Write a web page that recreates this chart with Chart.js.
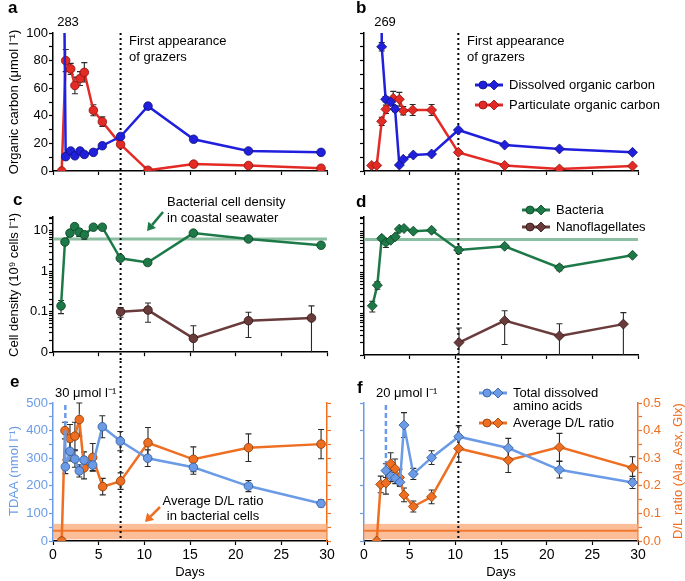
<!DOCTYPE html>
<html lang="en">
<head>
<meta charset="UTF-8">
<title>Organic carbon, cell density and amino acids</title>
<style>
  body { margin: 0; background: #fff; }
  #wrap { position: relative; width: 685px; height: 581px; }
  canvas { position: absolute; }
</style>
</head>
<body>
<div id="wrap">
  <canvas id="cA" width="340" height="183" style="left:0;top:0"></canvas>
  <canvas id="cB" width="345" height="183" style="left:340px;top:0"></canvas>
  <canvas id="cC" width="340" height="178" style="left:0;top:183px"></canvas>
  <canvas id="cD" width="345" height="178" style="left:340px;top:183px"></canvas>
  <canvas id="cE" width="340" height="220" style="left:0;top:361px"></canvas>
  <canvas id="cF" width="345" height="220" style="left:340px;top:361px"></canvas>
</div>

<script src="https://cdn.jsdelivr.net/npm/chart.js@4"></script>
<script>
// ---- data ----
const grazerDayA = 7.4;
const grazerDayB = 10.33;

// a: organic carbon, experiment 1
const aDocDays = [1.0, 1.39, 1.94, 2.4, 2.96, 3.43, 4.42, 5.4, 7.4, 10.4, 15.4, 21.4, 29.35];
const aDocVals = [283, 10.4, 14.5, 11, 14.5, 12, 13.5, 18.3, 25, 47, 23, 14.5, 13.5];
const aDocErr  = [0, 0, 1, 0, 1, 0, 0, 0, 1, 2, 0, 0, 0];
const aPocDays = [0.95, 1.39, 1.94, 2.4, 2.96, 3.43, 4.42, 5.4, 7.4, 10.4, 15.4, 21.4, 29.35];
const aPocVals = [0, 80, 74, 62, 67, 71.5, 44, 35.7, 19.3, 0.5, 5, 4, 2];
const aPocErr  = [0, 8, 4, 6, 5, 7, 4, 3.5, 1.5, 0, 0, 0, 0];

// b: organic carbon, experiment 2
const bDocDays = [1.88, 1.94, 2.37, 2.92, 3.4, 3.87, 4.3, 5.4, 7.4, 10.33, 15.4, 21.4, 29.4];
const bDocVals = [269, 90, 52, 50, 45, 4.3, 8.5, 11.6, 12.3, 29.7, 18.8, 16, 13.5];
const bDocErr  = [0, 3, 2, 2, 2, 0, 0, 1, 1, 1, 0, 0, 0];
const bPocDays = [0.84, 1.39, 1.94, 2.4, 3.2, 3.87, 4.3, 5.33, 7.4, 10.33, 15.4, 21.4, 29.4];
const bPocVals = [4, 4, 36, 44.7, 52.7, 52, 43.7, 44.2, 44.2, 13.5, 4, 1.5, 3.6];
const bPocErr  = [0, 0, 3, 3, 5, 5, 3, 4, 4, 1, 0, 0, 0];

// c / d: cell densities (10^9 cells per litre), log axis
const seawaterBacteria = 6.3;
const cBacDays  = [0.88, 1.31, 1.86, 2.37, 2.88, 3.43, 4.42, 5.4, 7.37, 10.37, 15.37, 21.4, 29.35];
const cBacVals  = [0.14, 5.3, 8.8, 12.7, 9.3, 8, 12.3, 12.3, 2.1, 1.65, 8.8, 6.3, 4.4];
const cBacErr   = [0.05, 0.4, 0.8, 1.5, 2, 1.8, 0.5, 0.5, 0.2, 0.25, 0.4, 0.6, 0.4];
const cNanoDays = [7.4, 10.4, 15.37, 21.4, 28.3];
const cNanoVals = [0.1, 0.11, 0.022, 0.06, 0.07];
const cNanoErr  = [0.027, 0.055, 0.023, 0.037, 0.07];

const dBacDays  = [0.91, 1.46, 1.94, 2.4, 2.92, 3.43, 3.87, 4.38, 5.4, 7.4, 10.37, 15.4, 21.4, 29.4];
const dBacVals  = [0.155, 0.49, 6.7, 5.3, 6, 7.3, 11.2, 11.6, 10, 10.5, 3.5, 4.3, 1.3, 2.6];
const dBacErr   = [0.045, 0.1, 0.8, 1.3, 0.5, 0.5, 0.8, 0.5, 0.4, 0.4, 0.6, 0.3, 0.2, 0.15];
const dNanoDays = [10.4, 15.4, 21.4, 28.4];
const dNanoVals = [0.02, 0.068, 0.029, 0.056];
const dNanoErr  = [0.025, 0.05, 0.028, 0.05];

// e / f: TDAA (nmol/l, left) and D/L ratio (right)
const cellRatioLo = 0.006, cellRatioMid = 0.037, cellRatioHi = 0.062;
// off-scale first samples (30 and 20 umol/l), drawn dashed
const eSpikeDays = [1.35, 1.35];
const eSpikeVals = [30000, 400];
const fSpikeDays = [2.37, 2.4];
const fSpikeVals = [20000, 255];

const eTdaaDays = [1.35, 1.35, 1.86, 2.4, 2.88, 3.4, 4.35, 5.4, 7.37, 10.37, 15.37, 21.4, 29.35];
const eTdaaVals = [400, 269, 325, 297, 254, 293, 275, 414, 362, 300, 267, 199, 136];
const eTdaaErr  = [0, 25, 35, 30, 22, 30, 20, 40, 35, 30, 25, 20, 12];
const eDlDays = [0.95, 1.31, 1.86, 2.4, 2.88, 3.4, 4.35, 5.44, 7.4, 10.4, 15.37, 21.4, 29.35];
const eDlVals = [0, 0.40, 0.372, 0.38, 0.44, 0.265, 0.303, 0.197, 0.217, 0.356, 0.296, 0.338, 0.351];
const eDlErr  = [0, 0.03, 0.05, 0.05, 0.06, 0.04, 0.05, 0.03, 0.03, 0.055, 0.045, 0.05, 0.053];

const fTdaaDays = [2.4, 2.92, 3.43, 3.94, 4.38, 5.4, 7.4, 10.37, 15.8, 21.4, 29.4];
const fTdaaVals = [255, 235, 228, 213, 420, 243, 302, 378, 337, 258, 212];
const fTdaaErr  = [25, 20, 20, 15, 45, 20, 25, 40, 35, 30, 22];
const fDlDays = [1.39, 1.83, 2.4, 2.92, 3.4, 3.9, 4.38, 5.4, 7.4, 10.37, 15.8, 21.4, 29.4];
const fDlVals = [0, 0.205, 0.21, 0.28, 0.262, 0.23, 0.167, 0.125, 0.16, 0.335, 0.293, 0.34, 0.265];
const fDlErr  = [0, 0.03, 0.04, 0.04, 0.035, 0.03, 0.025, 0.02, 0.025, 0.05, 0.045, 0.05, 0.04];

// ---- colours ----
const DOC = '#2020dc', DOC_EDGE = '#10107a';
const POC = '#e42a24', POC_EDGE = '#8a1010';
const BAC = '#1d7a48', BAC_EDGE = '#0b3d20';
const NANO = '#6a3b3b', NANO_EDGE = '#2e1515';
const TDAA = '#6b9be6', TDAA_EDGE = '#2d5595';
const DL = '#ee6f22', DL_EDGE = '#8a3a08';
const FONT = '"Liberation Sans", Arial, Helvetica, sans-serif';

Chart.defaults.font.family = FONT;
Chart.defaults.color = '#000';

function pts(days, vals) {
  return days.map((d, i) => ({ x: d, y: vals[i] }));
}

function series(label, days, vals, errs, color, edge, shape, axis, extra) {
  return Object.assign({
    label: label,
    data: pts(days, vals),
    errs: errs,
    yAxisID: axis || 'y',
    borderColor: color,
    backgroundColor: color,
    borderWidth: 2.5,
    pointStyle: shape,
    pointRadius: shape === 'rectRot' ? 5 : 4.3,
    pointBackgroundColor: color,
    pointBorderColor: edge,
    pointBorderWidth: 0.8,
    tension: 0
  }, extra || {});
}

function spike(days, vals, color) {
  return {
    data: pts(days, vals),
    borderColor: color,
    borderWidth: 2.5,
    borderDash: [5, 3],
    pointRadius: 0,
    yAxisID: 'y'
  };
}

function xAxis(labels, h) {
  return {
    type: 'linear', min: 0, max: 30,
    ticks: { stepSize: 5, display: labels, font: { size: 14 }, padding: 2, maxRotation: 0, autoSkip: false },
    grid: { drawOnChartArea: false, drawTicks: true, tickLength: 4, tickColor: '#000', tickWidth: 1.2 },
    border: { color: '#000', width: 1.5 },
    afterFit: s => { s.height = h; }
  };
}

function yAxis(o) {
  const ticks = { display: o.labels !== false, color: o.color, font: { size: 13 }, padding: 1, autoSkip: false };
  if (o.step) ticks.stepSize = o.step;
  if (o.cb) ticks.callback = o.cb;
  return {
    type: o.type || 'linear', position: o.pos || 'left',
    min: o.min, max: o.max,
    ticks: ticks,
    grid: { drawOnChartArea: false, drawTicks: true, tickLength: 4, tickColor: o.color, tickWidth: 1.2 },
    border: { color: o.color, width: 1.5 },
    afterFit: s => { s.width = o.w; }
  };
}

function opts(pad, scales) {
  return {
    responsive: false,
    animation: false,
    layout: { padding: pad },
    plugins: { legend: { display: false }, tooltip: { enabled: false } },
    scales: scales
  };
}

const logCb = v => {
  const l = Math.log10(v);
  if (Math.abs(l - Math.round(l)) > 1e-6) return '';
  if (Math.round(l) === -2) return '0';
  return String(v);
};
const tenthCb = v => Math.abs(v * 10 - Math.round(v * 10)) < 1e-6 ? v.toFixed(1) : '';

// ---- extra drawing: bands, grazer line, error bars, notes, legends ----
const extras = {
  cA: {
    vline: { day: grazerDayA, from: 'area', to: 'canvas' },
    texts: [
      { t: 'a', x: 8, y: 8, size: 17, bold: true },
      { t: String(aDocVals[0]), x: 68, y: 22, align: 'center' },
      { t: 'First appearance', x: 129, y: 41 },
      { t: 'of grazers', x: 129, y: 57 },
      { t: 'Organic carbon (μmol l⁻¹)', x: 14, y: 102, rot: true }
    ]
  },
  cB: {
    vline: { day: grazerDayB, from: 'area', to: 'canvas' },
    texts: [
      { t: 'b', x: 16, y: 8, size: 17, bold: true },
      { t: String(bDocVals[0]), x: 45, y: 22, align: 'center' },
      { t: 'First appearance', x: 127, y: 41 },
      { t: 'of grazers', x: 127, y: 57 }
    ],
    legend: [
      { x: 135, y: 85, color: DOC, edge: DOC_EDGE, lines: ['Dissolved organic carbon'] },
      { x: 135, y: 105, color: POC, edge: POC_EDGE, lines: ['Particulate organic carbon'] }
    ]
  },
  cC: {
    vline: { day: grazerDayA, from: 'canvas', to: 'canvas' },
    refLine: { axis: 'y', value: seawaterBacteria, color: 'rgba(120,180,145,0.85)', width: 3 },
    texts: [
      { t: 'c', x: 13, y: 17, size: 17, bold: true },
      { t: 'Bacterial cell density', x: 167, y: 19 },
      { t: 'in coastal seawater', x: 167, y: 35 },
      { t: 'Cell density (10⁹ cells l⁻¹)', x: 14, y: 102, rot: true }
    ],
    arrows: [{ x1: 163, y1: 29, x2: 147, y2: 48, color: BAC }]
  },
  cD: {
    vline: { day: grazerDayB, from: 'canvas', to: 'canvas' },
    refLine: { axis: 'y', value: seawaterBacteria, color: 'rgba(120,180,145,0.85)', width: 3 },
    texts: [{ t: 'd', x: 16, y: 19, size: 17, bold: true }],
    legend: [
      { x: 182, y: 27, color: BAC, edge: BAC_EDGE, lines: ['Bacteria'] },
      { x: 182, y: 44, color: NANO, edge: NANO_EDGE, lines: ['Nanoflagellates'] }
    ]
  },
  cE: {
    vline: { day: grazerDayA, from: 'canvas', to: 'area' },
    band: { axis: 'y2', lo: cellRatioLo, hi: cellRatioHi, mid: cellRatioMid },
    texts: [
      { t: 'e', x: 10, y: 21, size: 17, bold: true },
      { t: '30 μmol l⁻¹', x: 55, y: 32 },
      { t: 'Average D/L ratio', x: 213, y: 140, align: 'center' },
      { t: 'in bacterial cells', x: 213, y: 155, align: 'center' },
      { t: 'TDAA (nmol l⁻¹)', x: 14, y: 110, rot: true, color: TDAA },
      { t: 'Days', x: 190, y: 211, align: 'center' }
    ],
    arrows: [{ x1: 160, y1: 146, x2: 145, y2: 161, color: DL }]
  },
  cF: {
    vline: { day: grazerDayB, from: 'canvas', to: 'area' },
    band: { axis: 'y2', lo: cellRatioLo, hi: cellRatioHi, mid: cellRatioMid },
    texts: [
      { t: 'f', x: 17, y: 27, size: 17, bold: true },
      { t: '20 μmol l⁻¹', x: 36, y: 32 },
      { t: 'D/L ratio (Ala, Asx, Glx)', x: 338, y: 110, rot: true, color: DL },
      { t: 'Days', x: 161, y: 211, align: 'center' }
    ],
    legend: [
      { x: 139, y: 32, color: TDAA, edge: TDAA_EDGE, lines: ['Total dissolved', 'amino acids'] },
      { x: 139, y: 62, color: DL, edge: DL_EDGE, lines: ['Average D/L ratio'] }
    ]
  }
};

function diamond(ctx, x, y, r) {
  ctx.beginPath();
  ctx.moveTo(x, y - r); ctx.lineTo(x + r, y); ctx.lineTo(x, y + r); ctx.lineTo(x - r, y);
  ctx.closePath();
}

const decor = {
  id: 'decor',
  beforeDatasetsDraw(chart) {
    const ex = extras[chart.canvas.id];
    const ctx = chart.ctx, area = chart.chartArea;
    ctx.save();
    if (ex.band) {
      const sc = chart.scales[ex.band.axis];
      const yHi = sc.getPixelForValue(ex.band.hi), yLo = sc.getPixelForValue(ex.band.lo);
      ctx.fillStyle = 'rgba(249,168,118,0.75)';
      ctx.fillRect(area.left, yHi, area.right - area.left, yLo - yHi);
      ctx.strokeStyle = '#f07a30';
      ctx.lineWidth = 2;
      const ym = sc.getPixelForValue(ex.band.mid);
      ctx.beginPath(); ctx.moveTo(area.left, ym); ctx.lineTo(area.right, ym); ctx.stroke();
    }
    if (ex.refLine) {
      const sc = chart.scales[ex.refLine.axis];
      const y = sc.getPixelForValue(ex.refLine.value);
      ctx.strokeStyle = ex.refLine.color;
      ctx.lineWidth = ex.refLine.width;
      ctx.beginPath(); ctx.moveTo(area.left, y); ctx.lineTo(area.right, y); ctx.stroke();
    }
    if (ex.vline) {
      const x = chart.scales.x.getPixelForValue(ex.vline.day);
      const y0 = ex.vline.from === 'area' ? area.top : 0;
      const y1 = ex.vline.to === 'area' ? area.bottom : chart.height;
      ctx.strokeStyle = '#000';
      ctx.lineWidth = 2;
      ctx.setLineDash([2, 3]);
      ctx.beginPath(); ctx.moveTo(x, y0); ctx.lineTo(x, y1); ctx.stroke();
      ctx.setLineDash([]);
    }
    // error bars
    ctx.strokeStyle = '#2a2a2a';
    ctx.lineWidth = 1.1;
    chart.data.datasets.forEach((ds, i) => {
      if (!ds.errs) return;
      const meta = chart.getDatasetMeta(i);
      const sc = chart.scales[meta.yAxisID];
      meta.data.forEach((pt, j) => {
        const e = ds.errs[j];
        if (!e) return;
        const v = ds.data[j].y;
        let yt = sc.getPixelForValue(v + e);
        let yb = (v - e) > sc.min ? sc.getPixelForValue(v - e) : area.bottom;
        yt = Math.max(yt, area.top);
        yb = Math.min(yb, area.bottom);
        ctx.beginPath();
        ctx.moveTo(pt.x, yt); ctx.lineTo(pt.x, yb);
        ctx.moveTo(pt.x - 3, yt); ctx.lineTo(pt.x + 3, yt);
        if (yb < area.bottom) { ctx.moveTo(pt.x - 3, yb); ctx.lineTo(pt.x + 3, yb); }
        ctx.stroke();
      });
    });
    ctx.restore();
  },
  afterDraw(chart) {
    const ex = extras[chart.canvas.id];
    const ctx = chart.ctx;
    ctx.save();
    ctx.textBaseline = 'middle';
    (ex.texts || []).forEach(t => {
      ctx.font = (t.bold ? 'bold ' : '') + (t.size || 13) + 'px ' + FONT;
      ctx.fillStyle = t.color || '#000';
      ctx.textAlign = t.rot ? 'center' : (t.align || 'left');
      if (t.rot) {
        ctx.save();
        ctx.translate(t.x, t.y);
        ctx.rotate(-Math.PI / 2);
        ctx.fillText(t.t, 0, 0);
        ctx.restore();
      } else {
        ctx.fillText(t.t, t.x, t.y);
      }
    });
    (ex.arrows || []).forEach(a => {
      const ang = Math.atan2(a.y2 - a.y1, a.x2 - a.x1);
      const hx = a.x2 - 8 * Math.cos(ang), hy = a.y2 - 8 * Math.sin(ang);
      ctx.strokeStyle = a.color;
      ctx.fillStyle = a.color;
      ctx.lineWidth = 2.5;
      ctx.beginPath(); ctx.moveTo(a.x1, a.y1); ctx.lineTo(hx, hy); ctx.stroke();
      ctx.beginPath();
      ctx.moveTo(a.x2, a.y2);
      ctx.lineTo(hx + 5 * Math.sin(ang), hy - 5 * Math.cos(ang));
      ctx.lineTo(hx - 5 * Math.sin(ang), hy + 5 * Math.cos(ang));
      ctx.closePath(); ctx.fill();
    });
    (ex.legend || []).forEach(l => {
      ctx.strokeStyle = l.color;
      ctx.lineWidth = 3;
      ctx.beginPath(); ctx.moveTo(l.x, l.y); ctx.lineTo(l.x + 28, l.y); ctx.stroke();
      ctx.fillStyle = l.color;
      ctx.strokeStyle = l.edge;
      ctx.lineWidth = 0.8;
      ctx.beginPath(); ctx.arc(l.x + 8, l.y, 4, 0, Math.PI * 2); ctx.fill(); ctx.stroke();
      diamond(ctx, l.x + 19, l.y, 5); ctx.fill(); ctx.stroke();
      ctx.fillStyle = '#000';
      ctx.font = '13px ' + FONT;
      ctx.textAlign = 'left';
      l.lines.forEach((s, k) => ctx.fillText(s, l.x + 34, l.y + k * 13));
    });
    ctx.restore();
  }
};

// ---- a ----
new Chart(document.getElementById('cA'), {
  type: 'line',
  data: { datasets: [
    series('Dissolved organic carbon', aDocDays, aDocVals, aDocErr, DOC, DOC_EDGE, 'circle'),
    series('Particulate organic carbon', aPocDays, aPocVals, aPocErr, POC, POC_EDGE, 'circle')
  ] },
  options: opts({ left: 0, right: 13, top: 33, bottom: 0 }, {
    x: xAxis(false, 12),
    y: yAxis({ min: 0, max: 100, step: 10, color: '#000', w: 53, cb: v => v % 20 === 0 ? v : '' })
  }),
  plugins: [decor]
});

// ---- b ----
new Chart(document.getElementById('cB'), {
  type: 'line',
  data: { datasets: [
    series('Dissolved organic carbon', bDocDays, bDocVals, bDocErr, DOC, DOC_EDGE, 'rectRot'),
    series('Particulate organic carbon', bPocDays, bPocVals, bPocErr, POC, POC_EDGE, 'rectRot')
  ] },
  options: opts({ left: 0, right: 47, top: 33, bottom: 0 }, {
    x: xAxis(false, 12),
    y: yAxis({ min: 0, max: 100, step: 10, color: '#000', w: 24, labels: false })
  }),
  plugins: [decor]
});

// ---- c ----
new Chart(document.getElementById('cC'), {
  type: 'line',
  data: { datasets: [
    series('Bacteria', cBacDays, cBacVals, cBacErr, BAC, BAC_EDGE, 'circle'),
    series('Nanoflagellates', cNanoDays, cNanoVals, cNanoErr, NANO, NANO_EDGE, 'circle')
  ] },
  options: opts({ left: 0, right: 13, top: 34, bottom: 0 }, {
    x: xAxis(false, 6),
    y: yAxis({ type: 'logarithmic', min: 0.01, max: 22, color: '#000', w: 53, cb: logCb })
  }),
  plugins: [decor]
});

// ---- d ----
new Chart(document.getElementById('cD'), {
  type: 'line',
  data: { datasets: [
    series('Bacteria', dBacDays, dBacVals, dBacErr, BAC, BAC_EDGE, 'rectRot'),
    series('Nanoflagellates', dNanoDays, dNanoVals, dNanoErr, NANO, NANO_EDGE, 'rectRot')
  ] },
  options: opts({ left: 0, right: 47, top: 34, bottom: 0 }, {
    x: xAxis(false, 6),
    y: yAxis({ type: 'logarithmic', min: 0.01, max: 22, color: '#000', w: 24, labels: false, cb: logCb })
  }),
  plugins: [decor]
});

// ---- e ----
new Chart(document.getElementById('cE'), {
  type: 'line',
  data: { datasets: [
    series('Total dissolved amino acids', eTdaaDays, eTdaaVals, eTdaaErr, TDAA, TDAA_EDGE, 'circle', 'y', {
      pointRadius: eTdaaDays.map((d, i) => i < 1 ? 0 : 4.3)
    }),
    series('Average D/L ratio', eDlDays, eDlVals, eDlErr, DL, DL_EDGE, 'circle', 'y2'),
    spike(eSpikeDays, eSpikeVals, TDAA)
  ] },
  options: opts({ left: 0, right: 7, top: 42, bottom: 0 }, {
    x: xAxis(true, 40),
    y: yAxis({ min: 0, max: 500, step: 50, color: TDAA, w: 53, cb: v => v % 100 === 0 ? v : '' }),
    y2: yAxis({ min: 0, max: 0.5, step: 0.05, color: DL, w: 6, pos: 'right', labels: false })
  }),
  plugins: [decor]
});

// ---- f ----
new Chart(document.getElementById('cF'), {
  type: 'line',
  data: { datasets: [
    series('Total dissolved amino acids', fTdaaDays, fTdaaVals, fTdaaErr, TDAA, TDAA_EDGE, 'rectRot', 'y'),
    series('Average D/L ratio', fDlDays, fDlVals, fDlErr, DL, DL_EDGE, 'rectRot', 'y2'),
    spike(fSpikeDays, fSpikeVals, TDAA)
  ] },
  options: opts({ left: 0, right: 0, top: 42, bottom: 0 }, {
    x: xAxis(true, 40),
    y: yAxis({ min: 0, max: 500, step: 100, color: TDAA, w: 24, labels: false }),
    y2: yAxis({ min: 0, max: 0.5, step: 0.05, color: DL, w: 47, pos: 'right', cb: tenthCb })
  }),
  plugins: [decor]
});
</script>
</body>
</html>
